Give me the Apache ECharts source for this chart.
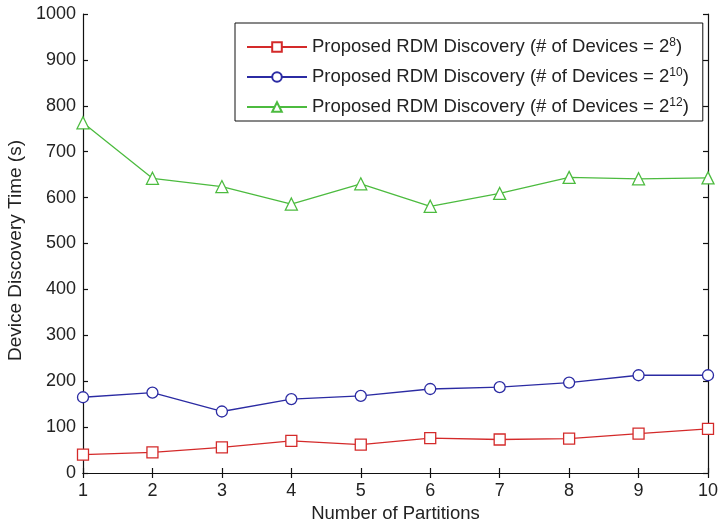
<!DOCTYPE html>
<html>
<head>
<meta charset="utf-8">
<script src="https://cdn.jsdelivr.net/npm/echarts@6/dist/echarts.min.js"></script>
<style>
  html, body { margin: 0; padding: 0; background: #fff; }
  #chart { width: 719px; height: 524px; }
</style>
</head>
<body>
<div id="chart"></div>
<script>
// Number of partitions on the x axis
const partitions = [1, 2, 3, 4, 5, 6, 7, 8, 9, 10];

// Device discovery time (s) for each network size
const time256 = [40, 45, 56, 70, 62, 76, 73, 75, 86, 96];
const time1024 = [165, 175, 134, 161, 168, 183, 187, 197, 213, 213];
const time4096 = [763, 642, 624, 586, 630, 581, 609, 644, 641, 643];

// Legend names with exponents rendered as superscripts
const seriesNames = [
  'Proposed RDM Discovery (# of Devices = 2{sup|8})',
  'Proposed RDM Discovery (# of Devices = 2{sup|10})',
  'Proposed RDM Discovery (# of Devices = 2{sup|12})'
];

const yTicks = { min: 0, max: 1000, interval: 100 };

const font = '"Liberation Sans", Arial, sans-serif';
const textColor = '#222';

function pairs(vals) {
  return partitions.map((p, i) => [p, vals[i]]);
}

function makeSeries(name, vals, color, symbol, size) {
  return {
    name: name,
    type: 'line',
    data: pairs(vals),
    symbol: symbol,
    symbolSize: size,
    showAllSymbol: true,
    lineStyle: { color: color, width: 1.3 },
    itemStyle: { color: '#fff', borderColor: color, borderWidth: 1.3 },
    emphasis: { disabled: true },
    animation: false
  };
}

const chart = echarts.init(document.getElementById('chart'));

const axisLine = { show: true, lineStyle: { color: '#111', width: 1.2 } };
const axisTickIn = { show: true, inside: true, length: 5, lineStyle: { color: '#111', width: 1.2 } };

chart.setOption({
  backgroundColor: '#fff',
  animation: false,
  grid: { left: 83, right: 11, top: 14, bottom: 51, containLabel: false, outerBoundsMode: 'none' },
  legend: {
    data: seriesNames,
    orient: 'vertical',
    left: 235,
    top: 23,
    itemWidth: 60,
    itemHeight: 12,
    itemGap: 9,
    padding: [14, 14, 3, 11],
    backgroundColor: '#fff',
    borderColor: '#111',
    borderWidth: 1,
    borderRadius: 0,
    selectedMode: false,
    textStyle: {
      fontFamily: font,
      fontSize: 18.5,
      lineHeight: 20,
      color: textColor,
      rich: {
        sup: { fontFamily: font, fontSize: 12, lineHeight: 20, color: textColor, verticalAlign: 'top', padding: [0, 0, 9, 0] }
      }
    }
  },
  xAxis: [
    {
      type: 'value',
      min: 1,
      max: 10,
      interval: 1,
      name: 'Number of Partitions',
      nameLocation: 'middle',
      nameGap: 29,
      nameTextStyle: { fontFamily: font, fontSize: 18.5, color: textColor },
      axisLine: axisLine,
      axisTick: axisTickIn,
      splitLine: { show: false },
      axisLabel: { fontFamily: font, fontSize: 18, color: textColor, margin: 9 }
    },
    {
      type: 'value',
      position: 'top',
      min: 1,
      max: 10,
      interval: 1,
      axisLine: axisLine,
      axisTick: axisTickIn,
      splitLine: { show: false },
      axisLabel: { show: false }
    }
  ],
  yAxis: [
    {
      type: 'value',
      min: yTicks.min,
      max: yTicks.max,
      interval: yTicks.interval,
      name: 'Device Discovery Time (s)',
      nameLocation: 'middle',
      nameGap: 58,
      nameTextStyle: { fontFamily: font, fontSize: 19, color: textColor, padding: [0, 14, 0, 0] },
      axisLine: axisLine,
      axisTick: axisTickIn,
      splitLine: { show: false },
      axisLabel: { fontFamily: font, fontSize: 18, color: textColor, margin: 7, formatter: (v) => String(v) }
    },
    {
      type: 'value',
      position: 'right',
      min: yTicks.min,
      max: yTicks.max,
      interval: yTicks.interval,
      axisLine: axisLine,
      axisTick: axisTickIn,
      splitLine: { show: false },
      axisLabel: { show: false }
    }
  ],
  series: [
    makeSeries(seriesNames[0], time256, '#d42a2a', 'rect', 11),
    makeSeries(seriesNames[1], time1024, '#2b2ba3', 'circle', 11),
    makeSeries(seriesNames[2], time4096, '#4cbb3f', 'triangle', 12)
  ]
});
</script>
</body>
</html>
